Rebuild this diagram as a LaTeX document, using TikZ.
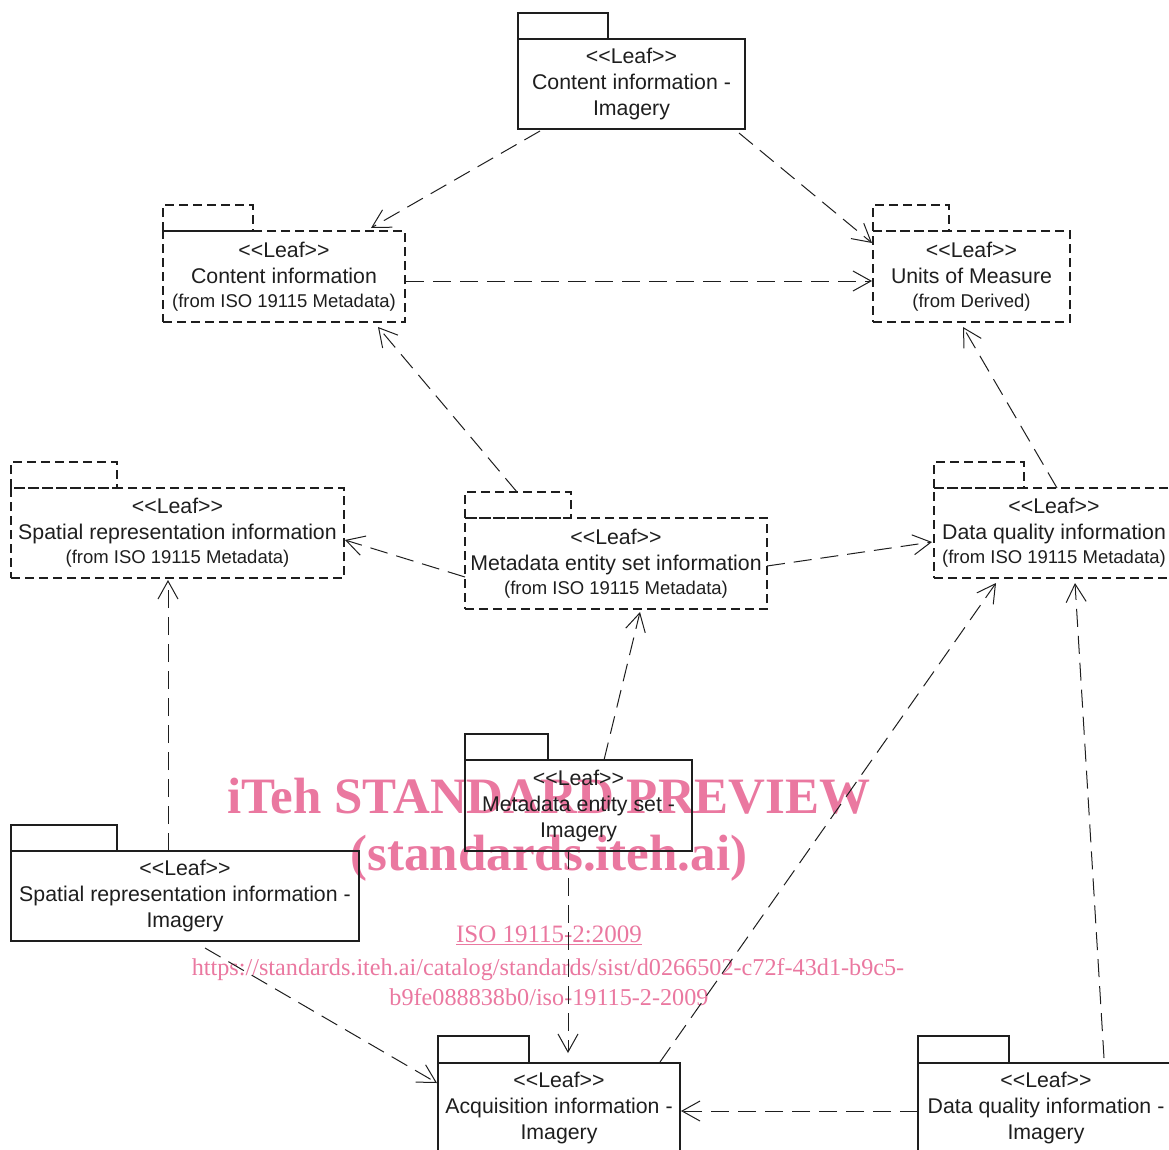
\documentclass[tikz,border=0pt]{standalone}
\usepackage{fontspec}
\setmainfont{Liberation Sans}
\newfontfamily\wmfont{Liberation Serif}
\usetikzlibrary{arrows.meta,calc}
\definecolor{ink}{RGB}{30,30,30}
\definecolor{wm}{RGB}{234,120,160}
\tikzset{
 pkg/.style={draw=ink, line width=1.2pt, inner sep=0pt, outer sep=0pt, align=center, text=ink, font=\fontsize{21.3}{26}\selectfont},
 pkgd/.style={pkg, dash pattern=on 9pt off 5pt},
 tabs/.style={draw=ink, line width=1.2pt},
 tabd/.style={tabs, dash pattern=on 9pt off 5pt},
 dep/.style={draw=ink, line width=1pt, dash pattern=on 18pt off 9pt, -{Straight Barb[length=18pt,width=20pt,line width=1pt]}},
 wmtext/.style={text=wm, inner sep=0pt, anchor=base}
}
\newcommand\srcline[1]{\\[-2pt]{\fontsize{18.5}{22}\selectfont #1}}
\newcommand\lf{<\kern0pt<Leaf>\kern0pt>}
\begin{document}
\begin{tikzpicture}[x=1pt,y=-1pt]
\useasboundingbox (0,0) rectangle (1169,1149);
% watermark (behind)
\node[wmtext, font=\wmfont\bfseries\fontsize{51}{51}\selectfont] (wm1) at (549,813) {iTeh STANDARD PREVIEW};
\node[wmtext, font=\wmfont\bfseries\fontsize{51}{51}\selectfont] (wm2) at (549,870) {(standards.iteh.ai)};
\node[wmtext, font=\wmfont\fontsize{25}{25}\selectfont] (wm3) at (549,942) {\underline{ISO 19115-2:2009}};
\node[wmtext, font=\wmfont\fontsize{24.2}{25}\selectfont] (wm4) at (548,975) {https://standards.iteh.ai/catalog/standards/sist/d0266502-c72f-43d1-b9c5-};
\node[wmtext, font=\wmfont\fontsize{24.2}{25}\selectfont] (wm5) at (549,1005) {b9fe088838b0/iso-19115-2-2009};

% packages
\node[pkg, minimum width=227pt, minimum height=90pt] (cii) at (631.5,84) {\lf\\Content information -\\Imagery};
\draw[tabs] (cii.north west) rectangle ++(90,-26);

\node[pkgd, minimum width=242pt, minimum height=91pt] (ci) at (284,276.5) {\lf\\Content information\srcline{(from ISO 19115 Metadata)}};
\draw[tabd] (ci.north west) rectangle ++(90,-26);

\node[pkgd, minimum width=197pt, minimum height=91pt] (uom) at (971.5,276.5) {\lf\\Units of Measure\srcline{(from Derived)}};
\draw[tabd] (uom.north west) rectangle ++(76,-26);

\node[pkgd, minimum width=333pt, minimum height=90pt] (sri) at (177.5,533) {\lf\\Spatial representation information\srcline{(from ISO 19115 Metadata)}};
\draw[tabd] (sri.north west) rectangle ++(106,-26);

\node[pkgd, minimum width=302pt, minimum height=91pt] (mesi) at (616,563.5) {\lf\\Metadata entity set information\srcline{(from ISO 19115 Metadata)}};
\draw[tabd] (mesi.north west) rectangle ++(106,-26);

\node[pkgd, minimum width=240pt, minimum height=90pt] (dqi) at (1054,533) {\lf\\Data quality information\srcline{(from ISO 19115 Metadata)}};
\draw[tabd] (dqi.north west) rectangle ++(90,-26);

\node[pkg, minimum width=348pt, minimum height=90pt] (srii) at (185,896) {\lf\\Spatial representation information -\\Imagery};
\draw[tabs] (srii.north west) rectangle ++(106,-26);

\node[pkg, minimum width=227pt, minimum height=91pt] (mesii) at (578.5,805.5) {\lf\\Metadata entity set -\\Imagery};
\draw[tabs] (mesii.north west) rectangle ++(83,-26);

\node[pkg, minimum width=242pt, minimum height=90pt] (aii) at (559,1108) {\lf\\Acquisition information -\\Imagery};
\draw[tabs] (aii.north west) rectangle ++(91,-27);

\node[pkg, minimum width=256pt, minimum height=90pt] (dqii) at (1046,1108) {\lf\\Data quality information -\\Imagery};
\draw[tabs] (dqii.north west) rectangle ++(91,-27);

% dependencies
\draw[dep] ($(cii.south west)+(22,2)$) -- ($(ci.north west)+(208,-3)$);
\draw[dep] ($(cii.south west)+(221,4)$) -- ($(uom.north west)+(-1,12)$);
\draw[dep] ($(ci.east)+(1,4.5)$) -- ($(uom.west)+(-1,4.5)$);
\draw[dep] ($(mesi.north west)+(52,-26)$) -- ($(ci.south west)+(215,5)$);
\draw[dep] ($(dqi.north west)+(123,0)$) -- ($(uom.south west)+(90,5)$);
\draw[dep] ($(mesi.west)+(0,13.5)$) -- ($(sri.east)+(1,7)$);
\draw[dep] ($(mesi.east)+(0,2.5)$) -- ($(dqi.west)+(-2,9)$);
\draw[dep] ($(srii.north west)+(157,0)$) -- ($(sri.south west)+(157,2)$);
\draw[dep] ($(mesii.north west)+(139,0)$) -- ($(mesi.south west)+(175,3)$);
\draw[dep] ($(mesii.south west)+(103,0)$) -- ($(aii.north west)+(130,-10)$);
\draw[dep] ($(srii.south west)+(194,7)$) -- ($(aii.north west)+(-1,20)$);
\draw[dep] ($(aii.north west)+(222,-1)$) -- ($(dqi.south west)+(62,5)$);
\draw[dep] ($(dqii.north west)+(186,-5)$) -- ($(dqi.south west)+(141,5)$);
\draw[dep] ($(dqii.west)+(0,3)$) -- ($(aii.east)+(1,3)$);
\end{tikzpicture}
\end{document}
